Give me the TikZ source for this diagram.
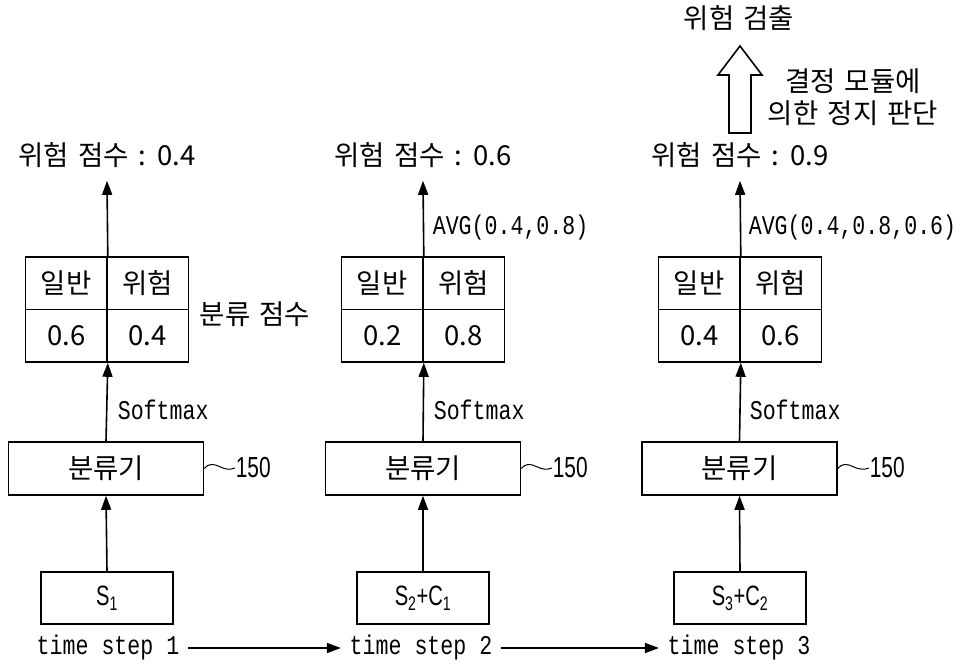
\documentclass[tikz,border=0pt]{standalone}
\usepackage{fontspec}
\setmainfont{Liberation Sans}
\newfontfamily\kr[WordSpace=1.5]{Noto Sans CJK KR}
\newfontfamily\mono[FakeStretch=0.8]{Liberation Mono}
\newfontfamily\narrow[FakeStretch=0.72]{Liberation Sans}
\usetikzlibrary{arrows.meta}
\begin{document}
\begin{tikzpicture}[x=1pt,y=-1pt,
  line width=1.6pt,
  arr/.style={-{Triangle[length=14pt,width=10pt]}},
  krf/.style={font=\kr\fontsize{27.5}{32}\selectfont},
  cell/.style={draw,minimum width=81.5pt,minimum height=52.5pt,inner sep=0pt,krf},
  clsbox/.style={draw,minimum width=195pt,minimum height=53pt,inner sep=0pt,krf},
  inbox/.style={draw,minimum width=132pt,minimum height=52pt,inner sep=0pt,font=\narrow\fontsize{28}{30}\selectfont},
  score/.style={minimum height=50pt,inner sep=0pt,krf},
  monolbl/.style={anchor=west,inner sep=0pt,font=\mono\fontsize{27}{30}\selectfont},
  krlbl/.style={inner sep=0pt,krf},
  reflbl/.style={anchor=west,inner sep=0pt,font=\narrow\fontsize{29}{30}\selectfont},
  tslbl/.style={inner xsep=8pt,inner ysep=1pt,font=\mono\fontsize{27}{30}\selectfont}]
\useasboundingbox (0,0) rectangle (962,671);
\fill[white] (0,0) rectangle (962,671);

% column 1
\node[cell] (t1a) at (66.25,283.25) {일반};
\node[cell] (t1b) at (147.75,283.25) {위험};
\node[cell] (t1c) at (66.25,335.75) {0.6};
\node[cell] (t1d) at (147.75,335.75) {0.4};
\node[score] (s1) at (107,155) {위험 점수 : 0.4};
\node[clsbox] (c1) at (106,468.5) {분류기};
\node[inbox] (i1) at (107,598) {S\textsubscript{1}};
\node[tslbl] (ts1) at (108,648) {time step 1};
\node[monolbl] (sm1) at (117,410) {Softmax};
\node[krlbl,anchor=west] (cs) at (199,314) {분류 점수};
\node[reflbl] (r1) at (235,468) {150};

% column 2
\node[cell] (t2a) at (382.25,283.25) {일반};
\node[cell] (t2b) at (463.75,283.25) {위험};
\node[cell] (t2c) at (382.25,335.75) {0.2};
\node[cell] (t2d) at (463.75,335.75) {0.8};
\node[score] (s2) at (423,155) {위험 점수 : 0.6};
\node[clsbox] (c2) at (423,468.5) {분류기};
\node[inbox] (i2) at (423,598) {S\textsubscript{2}+C\textsubscript{1}};
\node[tslbl] (ts2) at (421,648) {time step 2};
\node[monolbl] (sm2) at (433,410) {Softmax};
\node[monolbl] (avg2) at (432,228) {AVG(0.4,0.8)};
\node[reflbl] (r2) at (552,468) {150};

% column 3
\node[cell] (t3a) at (699.25,283.25) {일반};
\node[cell] (t3b) at (780.75,283.25) {위험};
\node[cell] (t3c) at (699.25,335.75) {0.4};
\node[cell] (t3d) at (780.75,335.75) {0.6};
\node[score] (s3) at (740,155) {위험 점수 : 0.9};
\node[clsbox] (c3) at (739.5,468.5) {분류기};
\node[inbox] (i3) at (740,598) {S\textsubscript{3}+C\textsubscript{2}};
\node[tslbl] (ts3) at (739,648) {time step 3};
\node[monolbl] (sm3) at (749,410) {Softmax};
\node[monolbl] (avg3) at (748,228) {AVG(0.4,0.8,0.6)};
\node[reflbl] (r3) at (869,468) {150};

% top
\node[krlbl] (det) at (739,18) {위험 검출};
\node[krlbl,align=center] (dec) at (853,97) {결정 모듈에\\의한 정지 판단};

% connectors
\foreach \k in {1,2,3}{
  \draw[arr] (i\k.north) -- (c\k.south);
  \draw[arr] (c\k.north) -- (t\k c.south east);
  \draw[arr] (t\k a.north east) -- (s\k.south);
  \draw[line width=1pt] (c\k.east) .. controls +(4,-5) and +(-6,-3) .. +(15,-2) .. controls +(6,3) and +(-5,2) .. (r\k.west);
}
\draw[arr] (ts1) -- (ts2);
\draw[arr] (ts2) -- (ts3);

% hollow arrow
\draw[line width=1.6pt,line join=miter] (729,133) -- (729,75) -- (718,75) -- (740,46) -- (762,75) -- (751,75) -- (751,133) -- cycle;
\end{tikzpicture}
\end{document}
